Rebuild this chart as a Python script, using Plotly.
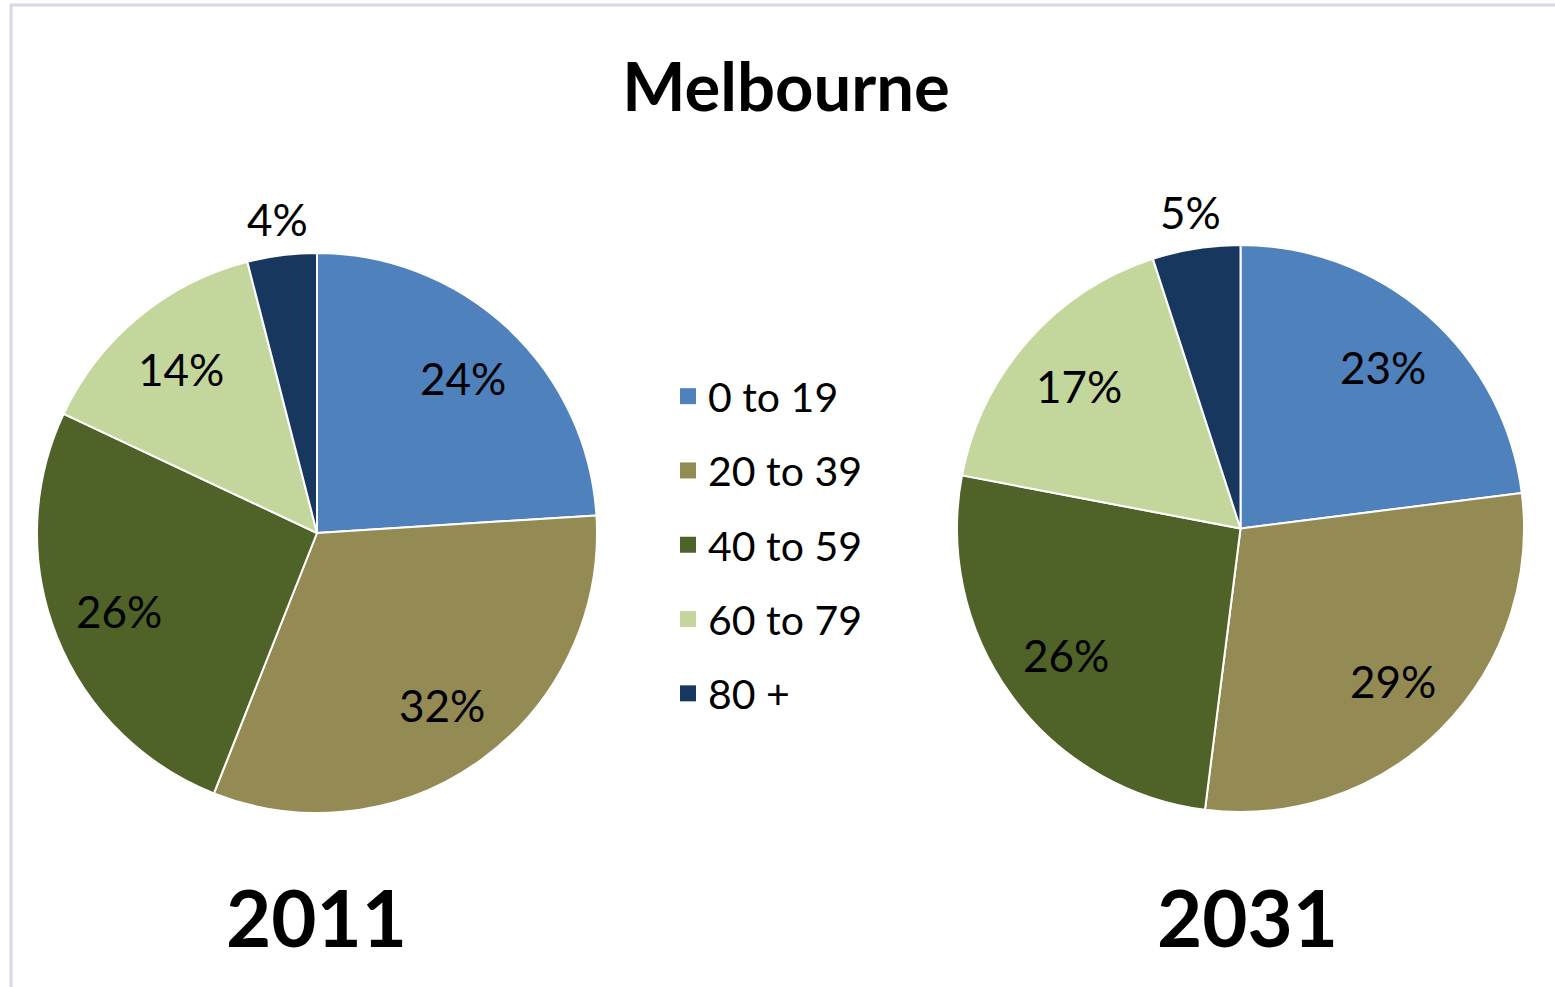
import math
import plotly.graph_objects as go

# Age groups and their population shares (%) for Melbourne
age_groups = ["0 to 19", "20 to 39", "40 to 59", "60 to 79", "80 +"]
share_2011 = [24, 32, 26, 14, 4]
share_2031 = [23, 29, 26, 17, 5]
years = ["2011", "2031"]
colors = ["#4f81bd", "#948a54", "#4f6228", "#c3d69b", "#17375e"]
label_outside = [False, False, False, False, True]

W, H = 1555, 987
FONT = "Lato"

fig = go.Figure()

pie_domains = [
    dict(x=[37 / W, 597 / W], y=[1 - 813 / H, 1 - 253 / H]),
    dict(x=[957 / W, 1524 / W], y=[1 - 812 / H, 1 - 245 / H]),
]


def add_slice_labels(shares, dom, inside_frac=0.76, outside_frac=1.13):
    """Percent labels on each slice's bisector, in paper coordinates."""
    x0, x1 = dom["x"][0] * W, dom["x"][1] * W
    y0, y1 = dom["y"][0] * H, dom["y"][1] * H
    cx, cy = (x0 + x1) / 2, (y0 + y1) / 2
    r = min(x1 - x0, y1 - y0) / 2
    total = sum(shares)
    cum = 0.0
    for val, outside in zip(shares, label_outside):
        mid = cum + val / 2
        cum += val
        theta = math.radians(90 - 360 * mid / total)
        frac = outside_frac if outside else inside_frac
        px = cx + frac * r * math.cos(theta)
        py = cy + frac * r * math.sin(theta)
        fig.add_annotation(
            text=f"{round(100 * val / total)}%", x=px / W, y=py / H,
            xref="paper", yref="paper", xanchor="center", yanchor="middle",
            showarrow=False, font=dict(family=FONT, size=44, color="black"),
        )


for shares, dom in zip([share_2011, share_2031], pie_domains):
    fig.add_trace(go.Pie(
        labels=age_groups,
        values=shares,
        sort=False,
        direction="clockwise",
        rotation=0,
        marker=dict(colors=colors, line=dict(color="white", width=2)),
        textinfo="none",
        domain=dom,
        showlegend=False,
        hoverinfo="label+percent",
    ))
    add_slice_labels(shares, dom)

# Legend entries, one group per age band so the rows can be spaced apart
for name, col in zip(age_groups, colors):
    fig.add_trace(go.Scatter(
        x=[None], y=[None], mode="markers", name=name,
        legendgroup=name,
        marker=dict(symbol="square", size=20, color=col, line=dict(width=0)),
    ))

# Year captions beneath each pie
for yr, xc in zip(years, [316 / W, 1247 / W]):
    fig.add_annotation(
        text=f"<b>{yr}</b>", x=xc, y=1 - 917 / H, xref="paper", yref="paper",
        xanchor="center", yanchor="middle", showarrow=False,
        font=dict(family=FONT, size=78, color="black"),
    )

# Frame lines along the top and left edges
frame = dict(color="#d6d9ea", width=3)
fig.add_shape(type="line", xref="paper", yref="paper",
              x0=10 / W, x1=1, y0=1 - 5 / H, y1=1 - 5 / H, line=frame)
fig.add_shape(type="line", xref="paper", yref="paper",
              x0=11 / W, x1=11 / W, y0=0, y1=1 - 5 / H, line=frame)

fig.update_layout(
    width=W, height=H,
    margin=dict(l=0, r=0, t=0, b=0),
    paper_bgcolor="white", plot_bgcolor="white",
    title=dict(text="<b>Melbourne</b>", x=786 / W, y=1 - 88 / H,
               xanchor="center", yanchor="middle",
               font=dict(family=FONT, size=67, color="black")),
    xaxis=dict(visible=False), yaxis=dict(visible=False),
    legend=dict(x=668 / W, y=1 - 363 / H, xanchor="left", yanchor="top",
                font=dict(family=FONT, size=41, color="black"),
                tracegroupgap=18, bgcolor="rgba(0,0,0,0)", traceorder="grouped"),
)

fig.write_html("out.html")
